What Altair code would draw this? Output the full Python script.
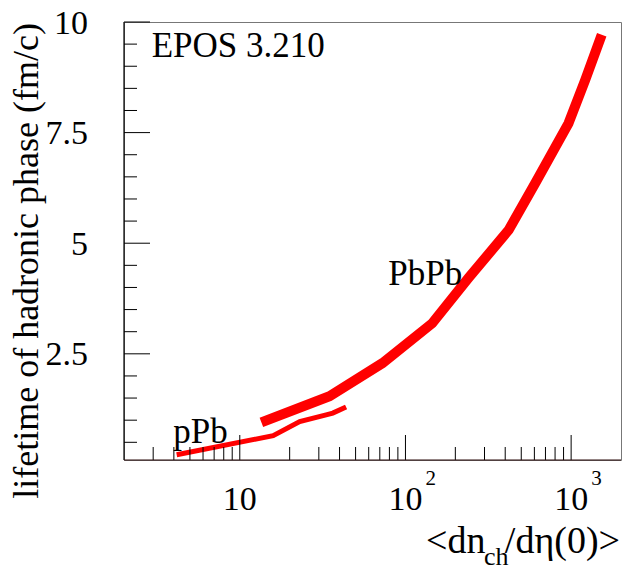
import altair as alt
import pandas as pd

# ---- data ----
pbpb_x = [13.5, 34.8, 72.7, 145, 241, 420, 608, 964, 1216, 1530]
pbpb_y = [0.95, 1.54, 2.29, 3.19, 4.22, 5.30, 6.36, 7.71, 8.69, 9.71]
ppb_x = [4.16, 15.9, 23.0, 33.2, 36.4, 43.8]
ppb_y = [0.22, 0.65, 0.97, 1.12, 1.16, 1.30]

x_major = [10, 100, 1000]
x_minor = [3, 4, 5, 6, 7, 8, 9, 20, 30, 40, 50, 60, 70, 80, 90,
           200, 300, 400, 500, 600, 700, 800, 900]
x_base = ["10", "10", "10"]
x_exp = ["", "2", "3"]

y_major = [2.5, 5, 7.5, 10]
y_major_labels = ["2.5", "5", "7.5", "10"]
y_minor = [0.5, 1, 1.5, 2, 3, 3.5, 4, 4.5, 5.5, 6, 6.5, 7, 8, 8.5, 9, 9.5]

W, H = 497, 438
FONT = "Liberation Serif"

xs = alt.Scale(type="log", domain=[2, 2000])
ys = alt.Scale(domain=[0.1, 10], zero=False, nice=False)

pbpb = pd.DataFrame({"x": pbpb_x, "y": pbpb_y})
ppb = pd.DataFrame({"x": ppb_x, "y": ppb_y})

line_pbpb = alt.Chart(pbpb).mark_line(color="#ff0000", strokeWidth=10, strokeCap="butt").encode(
    x=alt.X("x:Q", scale=xs, axis=None), y=alt.Y("y:Q", scale=ys, axis=None))
line_ppb = alt.Chart(ppb).mark_line(color="#ff0000", strokeWidth=5, strokeCap="butt").encode(
    x=alt.X("x:Q", scale=xs, axis=None), y=alt.Y("y:Q", scale=ys, axis=None))

# axis lines (left and bottom, black)
frame_df = pd.DataFrame({"k": ["a"]})
left_line = alt.Chart(frame_df).mark_rule(color="black", strokeWidth=1.2).encode(
    x=alt.value(0), y=alt.value(0), y2=alt.value(H))
bottom_line = alt.Chart(frame_df).mark_rule(color="#2a0a0a", strokeWidth=1.2).encode(
    x=alt.value(0), x2=alt.value(W), y=alt.value(H))

# x ticks (inward, from bottom)
xmaj = alt.Chart(pd.DataFrame({"x": x_major})).mark_rule(color="black", strokeWidth=1).encode(
    x=alt.X("x:Q", scale=xs, axis=None), y=alt.value(H), y2=alt.value(H - 25))
xmin = alt.Chart(pd.DataFrame({"x": x_minor})).mark_rule(color="black", strokeWidth=1).encode(
    x=alt.X("x:Q", scale=xs, axis=None), y=alt.value(H), y2=alt.value(H - 13))
# y ticks (inward, from left)
ymaj = alt.Chart(pd.DataFrame({"y": y_major})).mark_rule(color="black", strokeWidth=1).encode(
    y=alt.Y("y:Q", scale=ys, axis=None), x=alt.value(0), x2=alt.value(26))
ymin = alt.Chart(pd.DataFrame({"y": y_minor})).mark_rule(color="black", strokeWidth=1).encode(
    y=alt.Y("y:Q", scale=ys, axis=None), x=alt.value(0), x2=alt.value(13))

# tick labels
xlab_df = pd.DataFrame({"x": x_major, "b": x_base, "e": x_exp})
xlab = alt.Chart(xlab_df).mark_text(font=FONT, fontSize=34, align="center", baseline="alphabetic", color="black").encode(
    x=alt.X("x:Q", scale=xs, axis=None), y=alt.value(488), text="b:N")
xexp = alt.Chart(xlab_df).mark_text(font=FONT, fontSize=21, align="left", baseline="alphabetic", dx=20, color="black").encode(
    x=alt.X("x:Q", scale=xs, axis=None), y=alt.value(463), text="e:N")
ylab = alt.Chart(pd.DataFrame({"y": y_major, "t": y_major_labels})).mark_text(
    font=FONT, fontSize=34, align="right", baseline="alphabetic", dy=11.5, color="black").encode(
    y=alt.Y("y:Q", scale=ys, axis=None), x=alt.value(-36), text="t:N")

def label(txt, x, y, size, align="left", angle=0):
    return alt.Chart(pd.DataFrame({"t": [txt]})).mark_text(
        font=FONT, fontSize=size, align=align, baseline="alphabetic", angle=angle, color="black").encode(
        x=alt.value(x), y=alt.value(y), text="t:N")

texts = [
    label("EPOS 3.210", 27.7, 34.7, 35),
    label("PbPb", 264.3, 263, 35),
    label("pPb", 49.3, 421, 35),
    label("lifetime of hadronic phase (fm/c)", -86, 1, 36, align="right", angle=270),
    label("<dn", 302, 531, 38),
    label("ch", 360, 543, 26),
    label("/d\u03b7(0)>", 496, 531, 38, align="right"),
]

chart = alt.layer(line_ppb, line_pbpb, xmaj, xmin, ymaj, ymin, left_line, bottom_line,
                  xlab, xexp, ylab, *texts).properties(
    width=W, height=H,
    padding={"left": 124, "top": 22, "right": 2, "bottom": 110},
    autosize=alt.AutoSizeParams(type="none"),
).configure_view(stroke="#777777", strokeWidth=1)

chart.save("out.html", embed_options={"renderer": "svg", "actions": False})
